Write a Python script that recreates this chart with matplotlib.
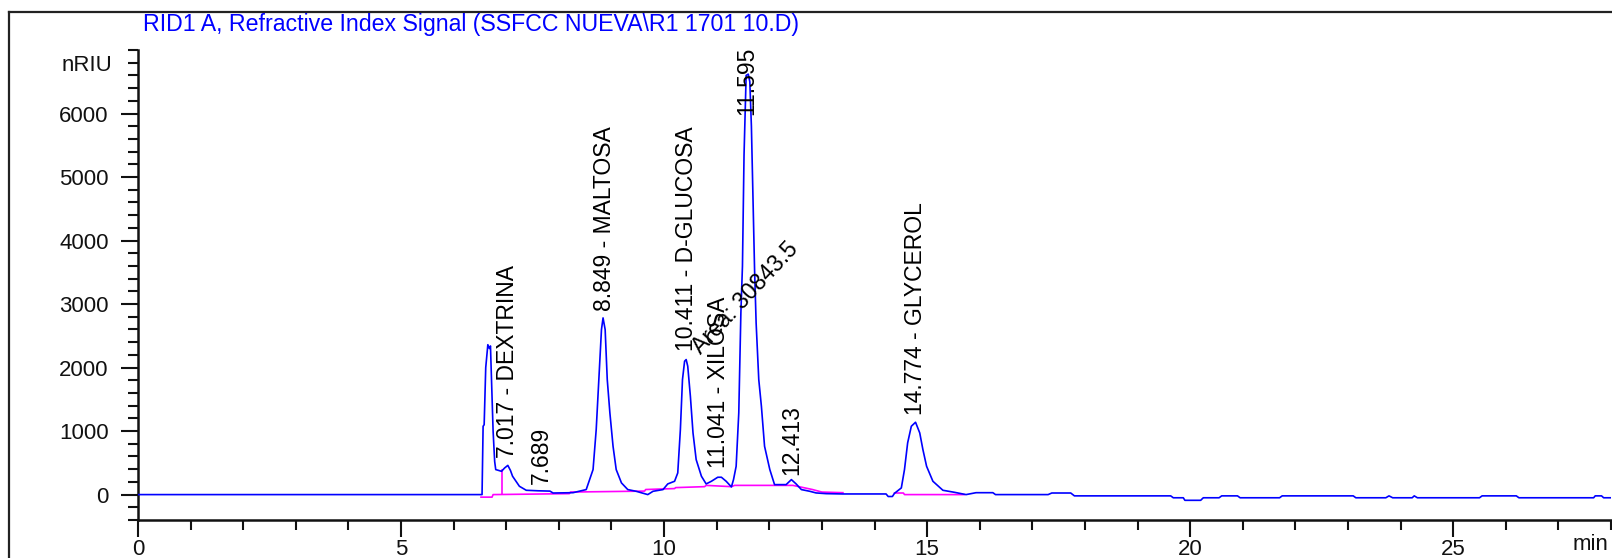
import numpy as np
import matplotlib
matplotlib.use('Agg')
import matplotlib.pyplot as plt
from matplotlib.lines import Line2D
from matplotlib.ticker import FixedLocator

plt.rcParams['font.family'] = ['Liberation Sans', 'DejaVu Sans']

# chromatogram trace (min, nRIU)
time = [0.0, 6.54, 6.56, 6.58, 6.61, 6.65, 6.68, 6.70, 6.72, 6.75, 6.78, 6.80, 6.86,
        6.91, 6.97, 7.03, 7.08, 7.12, 7.25, 7.38, 7.60, 7.83, 7.89, 8.27,
        8.52, 8.65, 8.71, 8.76, 8.81, 8.84, 8.88, 8.92, 8.97, 9.03, 9.09, 9.19,
        9.31, 9.47, 9.69, 9.79, 9.98, 10.07, 10.20, 10.26, 10.31, 10.35, 10.39,
        10.42, 10.45, 10.50, 10.55, 10.61, 10.71, 10.80, 10.90, 11.02, 11.09,
        11.18, 11.28, 11.32, 11.37, 11.42, 11.46, 11.49, 11.52, 11.56, 11.60,
        11.63, 11.66, 11.69, 11.72, 11.75, 11.80, 11.85, 11.91, 12.01, 12.10,
        12.32, 12.42, 12.51, 12.61, 12.77, 12.89, 13.08, 13.40, 14.22, 14.26,
        14.34, 14.38, 14.51, 14.57, 14.63, 14.70, 14.78, 14.86, 14.92, 14.99,
        15.11, 15.30, 15.52, 15.74, 15.93, 16.25, 16.30, 17.30, 17.37, 17.73,
        17.80, 19.63, 19.68, 19.87, 19.90, 20.20, 20.25, 20.55, 20.60, 20.90,
        20.95, 21.70, 21.75, 23.10, 23.15, 23.72, 23.78, 23.85, 24.22, 24.26,
        24.32, 25.50, 25.55, 26.20, 26.25, 27.67, 27.70, 27.82, 27.86, 28.0]
signal = [0, 0, 1076, 1100, 2000, 2360, 2300, 2340, 1800, 1000, 520, 394, 380,
          367, 420, 460, 380, 289, 131, 68, 60, 55, 25, 30,
          79, 394, 1024, 1811, 2598, 2782, 2598, 1811, 1286, 761, 394, 184,
          79, 52, 0, 52, 79, 168, 210, 341, 1024, 1811, 2100,
          2126, 2021, 1549, 971, 551, 289, 168, 210, 273, 273,
          210, 121, 236, 446, 1286, 2861, 3596, 5346, 6600, 6620,
          6500, 5800, 4650, 3550, 2700, 1811, 1391, 761, 394, 157,
          157, 236, 168, 79, 52, 26, 15, 10, 10, -30,
          -30, 20, 105, 394, 814, 1076, 1139, 971, 709, 446,
          210, 68, 36, 0, 30, 30, 0, 0, 25, 25,
          -20, -20, -50, -50, -90, -90, -50, -50, -20, -20,
          -50, -50, -20, -20, -50, -50, -20, -50, -50, -20,
          -50, -50, -20, -20, -50, -50, -20, -20, -50, -50]

# integration baselines
base_t = [6.52, 6.73, 6.75, 8.20, 8.22, 9.63, 9.65, 10.20, 10.22, 10.77, 10.80,
          11.28, 11.34, 12.45, 12.82, 13.00, 13.40]
base_v = [-40, -40, 0, 15, 40, 55, 80, 95, 110, 125, 145, 125, 145, 145, 80, 40, 30]
drop_t = [6.91, 6.91]
drop_v = [5, 390]
gly_base_t = [14.38, 14.55, 14.57, 15.70]
gly_base_v = [25, 25, 0, 0]

# peak annotations: (time, height, text)
label_t = [7.03, 7.67, 8.86, 10.42, 11.04, 11.58, 12.42, 14.78]
label_v = [578, 173, 2887, 2257, 420, 5984, 315, 1260]
label_txt = ['7.017 - DEXTRINA', '7.689', '8.849 - MALTOSA', '10.411 - D-GLUCOSA',
             '11.041 - XILOSA', '11.595', '12.413', '14.774 - GLYCEROL']
area_pos = (10.78, 2150)
area_txt = 'Area: 30843.5'

title = 'RID1 A, Refractive Index Signal (SSFCC NUEVA\\R1 1701 10.D)'

W, H = 1612, 558
fig = plt.figure(figsize=(W / 100, H / 100), dpi=100)
ax = fig.add_axes([138 / W, 38 / H, (1611 - 138) / W, (520 - 50) / H])

ax.plot(time, signal, color='#0000ff', lw=1.2, zorder=3)
ax.plot(base_t, base_v, color='#ff00ff', lw=1.2, zorder=2)
ax.plot(drop_t, drop_v, color='#ff00ff', lw=1.2, zorder=2)
ax.plot(gly_base_t, gly_base_v, color='#ff00ff', lw=1.2, zorder=2)

for t, v, s in zip(label_t, label_v, label_txt):
    ax.text(t, v, s, rotation=90, ha='center', va='bottom', fontsize=16.5,
            color='black', zorder=4)
ax.text(area_pos[0], area_pos[1], area_txt, rotation=47, rotation_mode='anchor',
        ha='left', va='bottom', fontsize=16.5, color='black', zorder=4)

ax.set_xlim(0, 28)
ax.set_ylim(-400, 7000)
ax.set_xticks([0, 5, 10, 15, 20, 25])
ax.xaxis.set_minor_locator(FixedLocator(np.arange(0, 28.01, 1)))
ax.set_yticks(np.arange(0, 6001, 1000))
ax.yaxis.set_minor_locator(FixedLocator(np.arange(-400, 7001, 200)))
ax.tick_params(which='major', length=12, width=1.5, direction='out',
               labelsize=16, colors='#111111')
ax.tick_params(axis='y', which='major', pad=9)
ax.tick_params(axis='x', which='major', pad=1.5)
ax.tick_params(which='minor', length=7, width=1.5, direction='out', colors='#111111')
for side in ['top', 'right']:
    ax.spines[side].set_visible(False)
for side in ['left', 'bottom']:
    ax.spines[side].set_linewidth(1.8)
    ax.spines[side].set_color('#111111')

ax.text(-0.0175, 6750, 'nRIU', transform=ax.get_yaxis_transform(),
        ha='right', va='center', fontsize=16, color='#111111')
fig.text(1590 / W, 1 - 545 / H, 'min', ha='center', va='center', fontsize=16,
         color='#111111')
fig.text(143 / W, 1 - 25 / H, title, ha='left', va='center', fontsize=16.7,
         color='#0000ff')

# outer frame of the report
fig.add_artist(Line2D([9 / W, 1], [1 - 12 / H, 1 - 12 / H], color='#222222', lw=1.6,
                      transform=fig.transFigure))
fig.add_artist(Line2D([9 / W, 9 / W], [0, 1 - 12 / H], color='#222222', lw=1.6,
                      transform=fig.transFigure))

fig.savefig('out.png', dpi=100)
